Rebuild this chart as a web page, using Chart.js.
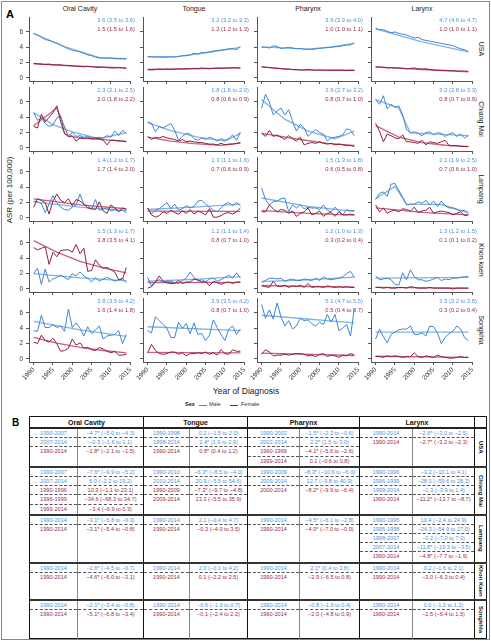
<!DOCTYPE html>
<html>
<head>
<meta charset="utf-8">
<script src="https://cdn.jsdelivr.net/npm/chart.js@4.4.1/dist/chart.umd.min.js"></script>
<style>
  body { margin: 0; background: #fff; font-family: "Liberation Sans", Arial, sans-serif; }
  #fig { position: relative; width: 491px; height: 641px; overflow: hidden; }
  .frame { position: absolute; left: 1px; top: 1px; width: 489px; height: 639px; box-sizing: border-box; border: 1px solid #888; }
  .abs { position: absolute; white-space: nowrap; }
  canvas { position: absolute; }
  .ann { font-size: 5.8px; line-height: 7px; text-align: right; }
  .m { color: #4f93d8; }
  .f { color: #9c2a4a; }
  .strip { font-size: 7px; writing-mode: vertical-rl; transform: translate(-50%, -50%); color: #222; }
  .coltitle { font-size: 7px; transform: translateX(-50%); color: #222; }
  #tbl { position: absolute; left: 29px; top: 416px; width: 457px; border-collapse: collapse; table-layout: fixed; font-size: 5.6px; border: 1px solid #111; }
  #tbl th { font-size: 7px; font-weight: bold; height: 10px; padding: 0; border-bottom: 2px solid #222; border-left: 1px solid #111; color: #111; }
  #tbl td { padding: 0; text-align: center; vertical-align: top; }
  #tbl td.p { border-left: 1px solid #111; }
  #tbl td.v { border-left: 1px solid #888; }
  #tbl td.s { border-left: 1px solid #111; writing-mode: vertical-rl; vertical-align: middle; font-weight: bold; font-size: 6px; color: #111; }
  #tbl tr.blk td { border-top: 2px solid #333; }
  .ln { height: 9.2px; line-height: 9.2px; box-sizing: border-box; white-space: nowrap; }
  .ln.dash { border-bottom: 1px dashed #555; }
</style>
</head>
<body>
<div id="fig">
  <div class="frame"></div>
  <div class="abs" style="left:6px;top:8px;font-size:11px;font-weight:bold;">A</div>
  <div class="abs" style="left:12px;top:417px;font-size:10px;font-weight:bold;">B</div>
  <div class="abs" style="left:9px;top:190px;font-size:8px;writing-mode:vertical-rl;transform:translate(-50%,-50%) rotate(180deg);color:#222;">ASR (per 100,000)</div>
  <div class="abs" style="left:246px;top:386px;font-size:8.5px;transform:translateX(-50%);color:#222;">Year of Diagnosis</div>
  <div class="abs" style="left:185px;top:401px;font-size:5.5px;font-weight:bold;color:#222;">Sex</div>
  <div class="abs" style="left:199px;top:404.5px;width:8px;height:1px;background:#3f85cf;"></div>
  <div class="abs" style="left:209px;top:401px;font-size:5.5px;color:#333;">Male</div>
  <div class="abs" style="left:230px;top:404.5px;width:8px;height:1px;background:#8e1d3d;"></div>
  <div class="abs" style="left:241px;top:401px;font-size:5.5px;color:#333;">Female</div>
</div>
<script>
// years and ticks
const years = [1990, 1991, 1992, 1993, 1994, 1995, 1996, 1997, 1998, 1999, 2000, 2001, 2002,
               2003, 2004, 2005, 2006, 2007, 2008, 2009, 2010, 2011, 2012, 2013, 2014];
const yearTicks = [1990, 1995, 2000, 2005, 2010, 2015];
const asrTicks = [0, 2, 4, 6];
const sites = ['Oral Cavity', 'Tongue', 'Pharynx', 'Larynx'];
const regions = ['USA', 'Chiang Mai', 'Lampang', 'Khon kaen', 'Songkhla'];
const tableRegions = ['USA', 'Chiang Mai', 'Lampang', 'Khon Kaen', 'Songkhla'];

// observed ASR, one list per site (oral cavity, tongue, pharynx, larynx)
const usaMale = [
    [5.8, 5.6, 5.3, 5.0, 4.9, 4.7, 4.5, 4.3, 4.0, 3.8, 3.6, 3.5, 3.4, 3.2, 3.0, 2.9, 2.7, 2.6, 2.6, 2.6, 2.6, 2.5, 2.5, 2.5, 2.5],
    [2.8, 2.75, 2.7, 2.75, 2.7, 2.7, 2.75, 2.7, 2.8, 2.9, 2.9, 3.0, 3.2, 3.1, 3.3, 3.3, 3.4, 3.5, 3.6, 3.6, 3.7, 3.8, 3.8, 3.7, 4.1],
    [4.0, 4.0, 3.9, 4.2, 4.1, 3.85, 3.9, 4.0, 3.9, 3.8, 3.85, 3.75, 3.75, 3.7, 3.8, 3.85, 3.9, 3.95, 4.0, 4.05, 4.1, 4.2, 4.3, 4.3, 4.6],
    [6.5, 6.3, 6.3, 6.1, 5.9, 6.0, 5.8, 5.7, 5.6, 5.4, 5.2, 5.3, 5.0, 4.9, 4.8, 4.7, 4.6, 4.5, 4.4, 4.3, 4.2, 4.0, 3.8, 3.7, 3.4]
];
const usaFemale = [
    [1.9, 1.85, 1.8, 1.75, 1.8, 1.7, 1.7, 1.7, 1.6, 1.6, 1.55, 1.5, 1.5, 1.45, 1.5, 1.45, 1.4, 1.35, 1.4, 1.35, 1.3, 1.3, 1.35, 1.3, 1.25],
    [1.1, 1.05, 1.1, 1.15, 1.1, 1.15, 1.1, 1.15, 1.2, 1.15, 1.2, 1.2, 1.25, 1.2, 1.3, 1.25, 1.2, 1.25, 1.3, 1.25, 1.3, 1.3, 1.35, 1.3, 1.3],
    [1.45, 1.4, 1.35, 1.3, 1.25, 1.2, 1.15, 1.15, 1.1, 1.1, 1.05, 1.05, 1.1, 1.05, 1.0, 1.05, 1.0, 1.0, 1.0, 1.0, 1.0, 1.0, 0.95, 1.0, 0.95],
    [1.45, 1.4, 1.4, 1.3, 1.35, 1.3, 1.3, 1.25, 1.2, 1.25, 1.3, 1.2, 1.15, 1.2, 1.1, 1.05, 1.0, 1.0, 1.0, 0.95, 0.95, 0.9, 0.9, 0.9, 0.85]
];
const chiangMaiMale = [
    [4.6, 3.6, 3.9, 3.2, 2.8, 3.0, 3.9, 4.2, 1.8, 1.6, 2.0, 1.5, 1.6, 1.4, 1.5, 1.3, 1.3, 1.4, 1.3, 1.6, 1.4, 2.2, 1.6, 2.3, 1.9],
    [3.4, 3.2, 2.1, 2.8, 2.6, 2.9, 3.2, 2.3, 1.0, 1.5, 1.9, 1.8, 1.2, 1.0, 1.3, 1.1, 1.4, 1.2, 0.9, 1.2, 1.0, 1.2, 1.7, 1.0, 2.1],
    [5.2, 7.0, 6.0, 4.3, 4.8, 5.2, 4.3, 5.0, 3.5, 2.2, 3.1, 2.6, 1.5, 2.0, 2.4, 2.0, 1.8, 0.9, 1.3, 1.4, 1.5, 1.7, 2.5, 2.3, 1.6],
    [6.3, 5.7, 6.8, 5.1, 5.7, 5.3, 5.5, 4.3, 2.4, 2.0, 2.1, 1.9, 1.6, 2.0, 2.1, 1.7, 2.0, 1.9, 1.5, 1.8, 2.0, 1.5, 1.8, 1.3, 1.6]
];
const chiangMaiFemale = [
    [2.8, 2.6, 4.4, 3.4, 4.0, 4.6, 5.5, 3.4, 1.9, 1.5, 1.6, 0.9, 1.3, 1.2, 1.3, 1.2, 1.3, 1.2, 1.0, 0.4, 1.0, 1.0, 0.9, 0.9, 0.8],
    [1.5, 1.1, 1.4, 1.3, 1.5, 1.3, 1.2, 1.1, 0.9, 1.1, 0.8, 0.9, 0.8, 0.7, 0.7, 0.6, 0.5, 0.5, 0.4, 0.6, 0.4, 0.5, 0.5, 0.6, 0.7],
    [1.9, 1.5, 2.3, 1.5, 1.7, 1.4, 1.1, 1.6, 1.2, 0.9, 1.4, 0.4, 0.6, 0.7, 0.6, 0.8, 0.6, 0.5, 0.6, 0.4, 0.5, 0.4, 0.3, 0.3, 0.2],
    [3.2, 2.2, 0.8, 1.8, 1.6, 1.3, 1.2, 1.7, 0.8, 0.8, 0.7, 0.6, 1.0, 0.4, 0.8, 0.7, 0.6, 0.8, 1.0, 0.3, 0.3, 0.3, 0.2, 0.2, 0.2]
];
const lampangMale = [
    [2.2, 2.1, 1.9, 0.7, 1.8, 2.9, 2.0, 1.4, 1.1, 1.0, 1.4, 1.7, 3.1, 1.8, 1.6, 1.1, 2.4, 1.0, 1.2, 1.3, 0.9, 1.1, 0.9, 1.0, 0.7],
    [1.3, 0.5, 1.0, 1.2, 1.6, 2.0, 1.2, 1.8, 1.0, 1.2, 1.6, 1.3, 1.5, 2.2, 2.3, 1.8, 1.4, 1.0, 0.8, 1.3, 1.8, 2.0, 1.6, 2.0, 1.6],
    [3.9, 2.4, 1.7, 2.1, 2.2, 2.5, 2.6, 0.8, 1.7, 1.3, 1.7, 1.2, 1.4, 1.3, 1.3, 1.1, 1.7, 1.0, 0.8, 1.4, 0.9, 0.4, 1.1, 0.9, 1.0],
    [2.4, 3.2, 3.4, 2.8, 4.4, 4.5, 3.6, 2.7, 1.7, 1.8, 1.8, 2.1, 1.9, 2.3, 1.7, 2.2, 1.5, 2.2, 1.6, 1.3, 1.3, 1.1, 0.9, 1.0, 0.6]
];
const lampangFemale = [
    [1.4, 2.5, 2.3, 2.0, 0.5, 2.2, 3.1, 2.3, 2.0, 2.5, 1.6, 2.4, 2.2, 1.8, 1.3, 1.2, 1.1, 2.1, 0.9, 0.6, 1.7, 1.3, 0.8, 1.3, 1.1],
    [1.3, 0.4, 0.1, 0.3, 0.8, 0.6, 1.0, 0.7, 0.5, 0.9, 0.6, 1.1, 0.5, 0.9, 0.7, 0.4, 1.2, 0.1, 0.1, 0.3, 0.6, 0.7, 0.5, 0.8, 1.3],
    [0.8, 0.8, 1.7, 1.2, 0.8, 1.1, 1.0, 0.6, 0.9, 0.2, 0.6, 0.8, 1.3, 0.4, 0.6, 0.9, 0.2, 0.6, 0.7, 0.2, 0.8, 0.4, 0.4, 0.5, 0.4],
    [1.7, 0.8, 1.3, 0.6, 0.9, 1.0, 0.8, 1.2, 1.1, 0.9, 1.4, 0.7, 0.9, 1.0, 1.4, 0.6, 0.8, 0.9, 0.8, 0.7, 0.4, 0.6, 0.8, 0.3, 0.4]
];
const khonKaenMale = [
    [2.0, 2.7, 0.6, 2.6, 0.9, 1.3, 1.5, 1.8, 1.5, 1.2, 2.0, 1.7, 2.2, 1.7, 1.4, 0.9, 1.5, 1.0, 1.3, 1.5, 1.3, 1.0, 1.2, 1.4, 0.8],
    [1.5, 0.4, 1.0, 1.2, 0.8, 1.0, 1.0, 0.8, 0.7, 1.1, 1.4, 2.2, 1.5, 1.0, 1.2, 0.9, 1.3, 1.4, 1.0, 1.2, 1.5, 1.8, 1.4, 2.1, 1.4],
    [0.9, 1.1, 1.4, 1.4, 1.3, 1.4, 1.0, 1.2, 1.3, 1.1, 1.1, 1.3, 1.2, 1.1, 1.4, 1.1, 1.6, 1.3, 1.2, 1.3, 1.4, 1.6, 2.0, 2.3, 1.5],
    [1.7, 1.2, 1.3, 1.4, 1.2, 0.6, 0.5, 2.1, 1.2, 2.5, 1.6, 1.2, 1.2, 1.0, 1.1, 1.3, 1.5, 1.1, 1.3, 1.2, 1.4, 1.4, 1.5, 1.6, 1.6]
];
const khonKaenFemale = [
    [5.4, 5.1, 5.3, 5.5, 3.2, 4.8, 4.2, 5.0, 5.1, 5.1, 4.8, 5.8, 4.6, 5.3, 2.3, 2.4, 3.8, 3.1, 2.7, 2.8, 2.5, 2.2, 1.2, 1.3, 2.8],
    [0.1, 0.3, 0.9, 1.7, 1.0, 0.8, 0.7, 0.7, 1.1, 0.7, 0.9, 0.9, 1.3, 1.2, 0.9, 1.0, 0.4, 1.0, 0.8, 0.6, 0.8, 0.9, 0.7, 0.9, 0.9],
    [0.4, 0.3, 0.2, 1.0, 0.4, 0.3, 0.5, 0.2, 0.4, 0.3, 0.5, 0.2, 0.7, 0.2, 0.3, 0.3, 0.2, 0.4, 0.3, 0.2, 0.3, 0.2, 0.3, 0.2, 0.2],
    [0.2, 0.2, 0.1, 0.2, 0.1, 0.1, 0.2, 0.2, 0.1, 0.3, 0.2, 0.1, 0.1, 0.1, 0.2, 0.1, 0.1, 0.1, 0.1, 0.1, 0.0, 0.1, 0.1, 0.1, 0.1]
];
const songkhlaMale = [
    [3.7, 3.6, 5.7, 4.1, 4.1, 4.5, 4.1, 4.3, 3.6, 6.5, 4.1, 4.7, 4.0, 3.0, 4.2, 3.3, 3.8, 4.3, 2.6, 3.0, 3.1, 3.2, 3.7, 2.0, 3.2],
    [3.7, 3.4, 5.5, 5.0, 4.5, 4.0, 2.8, 2.8, 4.8, 4.0, 4.6, 3.3, 4.7, 3.2, 3.3, 2.4, 3.1, 5.1, 4.1, 3.2, 2.4, 3.9, 4.3, 3.2, 3.9],
    [7.1, 5.3, 6.4, 5.2, 7.3, 5.5, 4.3, 5.0, 3.9, 4.3, 5.3, 5.0, 5.1, 4.6, 4.3, 4.8, 4.5, 5.8, 4.8, 5.8, 3.7, 4.0, 4.5, 3.0, 6.6],
    [2.6, 3.9, 2.9, 2.1, 3.2, 3.5, 3.8, 3.9, 3.9, 4.3, 3.2, 3.2, 3.4, 3.0, 4.3, 4.2, 3.4, 2.0, 2.8, 3.3, 3.6, 4.3, 3.9, 2.8, 2.4]
];
const songkhlaFemale = [
    [2.2, 2.0, 3.1, 2.4, 2.2, 2.7, 2.0, 1.0, 1.1, 1.4, 2.6, 1.8, 2.1, 1.4, 1.5, 1.2, 1.1, 1.5, 1.3, 1.0, 0.8, 1.0, 0.5, 0.5, 0.6],
    [0.8, 1.9, 1.1, 0.7, 0.6, 0.7, 0.9, 0.9, 0.6, 0.8, 0.4, 0.7, 0.7, 0.8, 0.7, 0.9, 0.6, 0.8, 0.5, 1.2, 0.7, 0.6, 1.2, 1.0, 1.0],
    [0.6, 1.2, 0.9, 0.4, 0.5, 0.5, 0.6, 0.5, 0.6, 0.7, 0.7, 0.6, 0.4, 0.5, 0.3, 0.6, 0.7, 0.3, 0.5, 0.4, 0.2, 0.5, 0.4, 0.7, 0.5],
    [0.3, 0.3, 0.2, 0.4, 0.3, 0.4, 0.3, 0.2, 0.3, 0.3, 0.8, 0.3, 0.2, 0.4, 0.3, 0.2, 0.5, 0.3, 0.2, 0.1, 0.1, 0.2, 0.3, 0.2, 0.2]
];

// joinpoint trend lines, [year, ASR] points
const usaMaleTrend = [
    [[1990, 5.8], [1998, 4.1], [2007, 2.65], [2014, 2.5]],
    [[1990, 2.75], [1998, 2.8], [2006, 3.35], [2014, 4.0]],
    [[1990, 4.05], [2002, 3.75], [2008, 4.05], [2014, 4.5]],
    [[1990, 6.4], [2002, 4.7], [2014, 3.4]]
];
const usaFemaleTrend = [
    [[1990, 1.85], [2002, 1.55], [2014, 1.3]],
    [[1990, 1.1], [2014, 1.3]],
    [[1990, 1.45], [1999, 1.05], [2014, 1.0]],
    [[1990, 1.45], [2002, 1.1], [2014, 0.8]]
];
const chiangMaiMaleTrend = [
    [[1990, 4.6], [1995, 3.05], [2000, 2.1], [2007, 1.2], [2014, 2.0]],
    [[1990, 3.3], [1996, 2.25], [2003, 1.4], [2010, 0.9], [2014, 1.9]],
    [[1990, 6.3], [1996, 3.75], [2002, 2.2], [2009, 1.2], [2014, 2.2]],
    [[1990, 6.3], [1996, 5.2], [1999, 1.95], [2014, 1.6]]
];
const chiangMaiFemaleTrend = [
    [[1990, 2.9], [1996, 5.2], [1999, 1.5], [2005, 1.2], [2014, 0.85]],
    [[1990, 1.4], [1996, 0.9], [2002, 0.57], [2009, 0.33], [2014, 0.62]],
    [[1990, 1.9], [2000, 1.1], [2007, 0.6], [2014, 0.33]],
    [[1990, 2.9], [1996, 1.4], [2002, 0.7], [2008, 0.35], [2014, 0.17]]
];
const lampangMaleTrend = [
    [[1990, 2.1], [2002, 1.4], [2014, 0.95]],
    [[1990, 1.1], [2002, 1.4], [2014, 1.8]],
    [[1990, 2.6], [2002, 1.5], [2014, 0.85]],
    [[1990, 2.5], [1995, 4.1], [1998, 1.8], [2007, 1.75], [2014, 0.7]]
];
const lampangFemaleTrend = [
    [[1990, 2.5], [2002, 1.7], [2014, 1.2]],
    [[1990, 0.9], [2014, 0.85]],
    [[1990, 0.95], [2002, 0.6], [2014, 0.36]],
    [[1990, 1.3], [2002, 0.72], [2014, 0.4]]
];
const khonKaenMaleTrend = [
    [[1990, 2.0], [2002, 1.45], [2014, 1.05]],
    [[1990, 1.0], [2002, 1.25], [2014, 1.6]],
    [[1990, 0.95], [2002, 1.2], [2014, 1.55]],
    [[1990, 1.4], [2014, 1.5]]
];
const khonKaenFemaleTrend = [
    [[1990, 6.3], [1996, 4.8], [2002, 3.6], [2008, 2.75], [2014, 2.1]],
    [[1990, 0.82], [2014, 0.85]],
    [[1990, 0.45], [2002, 0.32], [2014, 0.23]],
    [[1990, 0.2], [2014, 0.1]]
];
const songkhlaMaleTrend = [
    [[1990, 4.9], [2002, 3.8], [2014, 2.95]],
    [[1990, 4.2], [2014, 3.7]],
    [[1990, 5.7], [2014, 4.7]],
    [[1990, 3.5], [2014, 3.5]]
];
const songkhlaFemaleTrend = [
    [[1990, 2.8], [1996, 2.05], [2002, 1.5], [2008, 1.1], [2014, 0.8]],
    [[1990, 0.85], [2014, 0.8]],
    [[1990, 0.75], [2014, 0.45]],
    [[1990, 0.35], [2014, 0.2]]
];

// ASR (95% CI) labels in each panel, [male, female]
const usaAsr = [['3.6 (3.5 to 3.6)', '1.5 (1.5 to 1.6)'], ['3.2 (3.2 to 3.3)', '1.2 (1.2 to 1.3)'],
                ['3.9 (3.9 to 4.0)', '1.0 (1.0 to 1.1)'], ['4.7 (4.6 to 4.7)', '1.0 (1.0 to 1.1)']];
const chiangMaiAsr = [['2.3 (2.1 to 2.5)', '2.0 (1.8 to 2.2)'], ['1.8 (1.6 to 2.0)', '0.8 (0.6 to 0.9)'],
                      ['2.9 (2.7 to 3.2)', '0.8 (0.7 to 1.0)'], ['3.0 (2.8 to 3.3)', '0.8 (0.7 to 0.9)']];
const lampangAsr = [['1.4 (1.2 to 1.7)', '1.7 (1.4 to 2.0)'], ['1.3 (1.1 to 1.6)', '0.7 (0.6 to 0.9)'],
                    ['1.5 (1.3 to 1.8)', '0.6 (0.5 to 0.8)'], ['2.1 (1.9 to 2.5)', '0.7 (0.6 to 1.0)']];
const khonKaenAsr = [['1.5 (1.3 to 1.7)', '3.8 (3.5 to 4.1)'], ['1.2 (1.1 to 1.4)', '0.8 (0.7 to 1.0)'],
                     ['1.2 (1.0 to 1.3)', '0.3 (0.2 to 0.4)'], ['1.3 (1.2 to 1.5)', '0.1 (0.1 to 0.2)']];
const songkhlaAsr = [['3.8 (3.5 to 4.2)', '1.6 (1.4 to 1.8)'], ['3.9 (3.5 to 4.2)', '0.8 (0.7 to 1.0)'],
                     ['5.1 (4.7 to 5.5)', '0.5 (0.4 to 0.7)'], ['3.5 (3.2 to 3.8)', '0.3 (0.2 to 0.4)']];

// panel B: [period, APC (95% CI), sex]
const usaApc = [
    [['1990-2007', '−4.7* (−5.0 to −4.3)', 'm'], ['2007-2014', '−0.3 (−1.6 to 1.1)', 'm'], ['1990-2014', '−1.8* (−2.1 to −1.5)', 'f']],
    [['1990-1998', '0.2 (−1.5 to 2.0)', 'm'], ['1998-2014', '2.4* (1.9 to 2.9)', 'm'], ['1990-2014', '0.8* (0.4 to 1.2)', 'f']],
    [['1990-2002', '−1.5* (−2.3 to −0.6)', 'm'], ['2002-2014', '2.2* (1.5 to 3.0)', 'm'], ['1990-1999', '−4.1* (−5.6 to −2.6)', 'f'], ['1999-2014', '0.1 (−0.6 to 0.8)', 'f']],
    [['1990-2014', '−2.6* (−3.0 to −2.5)', 'm'], ['1990-2014', '−2.7* (−3.2 to −2.3)', 'f']]
];
const chiangMaiApc = [
    [['1990-2007', '−7.6* (−9.9 to −5.2)', 'm'], ['2007-2014', '8.0 (−2.2 to 19.2)', 'm'], ['1990-1996', '10.3 (−1.1 to 23.1)', 'f'], ['1996-1999', '−34.6 (−68.3 to 34.7)', 'f'], ['1999-2014', '−3.4 (−6.9 to 0.3)', 'f']],
    [['1990-2010', '−6.3* (−8.5 to −4.0)', 'm'], ['2010-2014', '20.9 (−5.5 to 54.6)', 'm'], ['1990-2009', '−7.3* (−9.7 to −4.8)', 'f'], ['2009-2014', '13.3 (−5.5 to 35.9)', 'f']],
    [['1990-2009', '−8.3* (−10.6 to −6.0)', 'm'], ['2009-2014', '12.7 (−9.8 to 40.9)', 'm'], ['2000-2014', '−8.2* (−9.9 to −6.4)', 'f']],
    [['1990-1996', '−3.2 (−10.1 to 4.1)', 'm'], ['1996-1999', '−28.0 (−59.6 to 28.3)', 'm'], ['1999-2014', '−1.3 (−3.9 to 1.4)', 'm'], ['1990-2014', '−11.2* (−13.7 to −8.7)', 'f']]
];
const lampangApc = [
    [['1990-2014', '−3.1* (−5.8 to −0.3)', 'm'], ['1990-2014', '−3.1* (−5.4 to −0.8)', 'f']],
    [['1990-2014', '2.1 (−0.4 to 4.7)', 'm'], ['1990-2014', '−0.3 (−4.0 to 3.5)', 'f']],
    [['1990-2014', '−4.5* (−6.1 to −2.8)', 'm'], ['1990-2014', '−4.0* (−7.0 to −0.9)', 'f']],
    [['1990-1995', '10.4 (−2.4 to 24.9)', 'm'], ['1995-1998', '−24.3 (−54.9 to 27.0)', 'm'], ['1998-2007', '−0.2 (−7.0 to 7.0)', 'm'], ['2007-2014', '−11.8* (−19.3 to −3.5)', 'm'], ['1990-2014', '−4.8* (−7.7 to −1.9)', 'f']]
];
const khonKaenApc = [
    [['1990-2014', '−2.6* (−4.5 to −0.7)', 'm'], ['1990-2014', '−4.6* (−6.0 to −3.1)', 'f']],
    [['1990-2014', '2.0 (−0.1 to 4.2)', 'm'], ['1990-2014', '0.1 (−2.2 to 2.5)', 'f']],
    [['1990-2014', '2.1* (0.4 to 3.8)', 'm'], ['1990-2014', '−2.9 (−6.5 to 0.8)', 'f']],
    [['1990-2014', '0.2 (−1.6 to 2.1)', 'm'], ['1990-2014', '−3.0 (−6.3 to 0.4)', 'f']]
];
const songkhlaApc = [
    [['1990-2014', '−2.1* (−3.4 to −0.8)', 'm'], ['1990-2014', '−5.1* (−6.8 to −3.4)', 'f']],
    [['1990-2014', '−0.6 (−1.9 to 0.7)', 'm'], ['1990-2014', '−0.1 (−2.4 to 2.2)', 'f']],
    [['1990-2014', '−0.8 (−1.9 to 0.4)', 'm'], ['1990-2014', '−2.0 (−4.8 to 0.9)', 'f']],
    [['1990-2014', '0.0 (−1.3 to 1.3)', 'm'], ['1990-2014', '−2.5 (−6.4 to 1.5)', 'f']]
];

const maleSets = [usaMale, chiangMaiMale, lampangMale, khonKaenMale, songkhlaMale];
const femaleSets = [usaFemale, chiangMaiFemale, lampangFemale, khonKaenFemale, songkhlaFemale];
const maleTrends = [usaMaleTrend, chiangMaiMaleTrend, lampangMaleTrend, khonKaenMaleTrend, songkhlaMaleTrend];
const femaleTrends = [usaFemaleTrend, chiangMaiFemaleTrend, lampangFemaleTrend, khonKaenFemaleTrend, songkhlaFemaleTrend];
const asrLabels = [usaAsr, chiangMaiAsr, lampangAsr, khonKaenAsr, songkhlaAsr];
const apcTables = [usaApc, chiangMaiApc, lampangApc, khonKaenApc, songkhlaApc];

// layout of the panel grid
const colLeft = [29, 143, 257, 371];
const rowTop = [17, 87, 157, 228, 298];
const plotW = 102, plotH = 64;

const maleColor = '#3f85cf', femaleColor = '#8e1d3d';
const maleTrendColor = '#80b3e4', femaleTrendColor = '#c3637c';

Chart.defaults.font.family = '"Liberation Sans", Arial, sans-serif';
Chart.defaults.font.size = 6.5;
Chart.defaults.color = '#333';

const fig = document.getElementById('fig');

function addText(cls, text, style) {
    const d = document.createElement('div');
    d.className = 'abs ' + cls;
    d.textContent = text;
    Object.assign(d.style, style);
    fig.appendChild(d);
    return d;
}

sites.forEach((s, ci) => {
    addText('coltitle', s, { left: (colLeft[ci] + plotW / 2) + 'px', top: '5px' });
});
regions.forEach((r, ri) => {
    addText('strip', r, { left: '481px', top: (rowTop[ri] + plotH / 2) + 'px' });
});

function lineSet(points, color, width) {
    return {
        data: points,
        borderColor: color,
        borderWidth: width,
        pointRadius: 0,
        tension: 0,
        fill: false
    };
}

function makePanel(ri, ci) {
    const isLeft = ci === 0;
    const isBottom = ri === regions.length - 1;
    const padL = isLeft ? 28 : 12;
    const padB = isBottom ? 26 : 5;

    const cv = document.createElement('canvas');
    cv.width = padL + plotW;
    cv.height = plotH + padB;
    cv.style.left = (colLeft[ci] - padL) + 'px';
    cv.style.top = rowTop[ri] + 'px';
    fig.appendChild(cv);

    const male = maleSets[ri][ci].map((v, i) => ({ x: years[i], y: v }));
    const female = femaleSets[ri][ci].map((v, i) => ({ x: years[i], y: v }));
    const maleFit = maleTrends[ri][ci].map(p => ({ x: p[0], y: p[1] }));
    const femaleFit = femaleTrends[ri][ci].map(p => ({ x: p[0], y: p[1] }));

    new Chart(cv, {
        type: 'line',
        data: {
            datasets: [
                lineSet(female, femaleColor, 1),
                lineSet(male, maleColor, 1),
                lineSet(femaleFit, femaleTrendColor, 1.3),
                lineSet(maleFit, maleTrendColor, 1.3)
            ]
        },
        options: {
            responsive: false,
            animation: false,
            events: [],
            layout: { padding: 0 },
            plugins: { legend: { display: false }, tooltip: { enabled: false } },
            scales: {
                x: {
                    type: 'linear',
                    min: 1988.8,
                    max: 2015.2,
                    afterBuildTicks: sc => { sc.ticks = yearTicks.map(v => ({ value: v })); },
                    afterFit: sc => {
                        sc.height = padB;
                        sc.paddingLeft = 0; sc.paddingRight = 0;
                    },
                    grid: { drawOnChartArea: false, tickLength: 3, color: '#555' },
                    border: { color: '#555' },
                    ticks: {
                        display: isBottom,
                        autoSkip: false,
                        minRotation: 45,
                        maxRotation: 45,
                        padding: 1,
                        color: '#333',
                        callback: v => String(v)
                    }
                },
                y: {
                    min: -0.4,
                    max: 7.95,
                    afterBuildTicks: sc => { sc.ticks = asrTicks.map(v => ({ value: v })); },
                    afterFit: sc => {
                        sc.width = padL;
                        sc.paddingTop = 0; sc.paddingBottom = 0;
                    },
                    grid: { drawOnChartArea: false, tickLength: 3, color: '#555' },
                    border: { color: '#555' },
                    ticks: { display: isLeft, padding: 3, color: '#333' }
                }
            }
        }
    });

    // ASR (95% CI) text, right aligned at the panel's top right
    const rightEdge = 491 - (colLeft[ci] + plotW + 4);
    const lab = asrLabels[ri][ci];
    addText('ann m', lab[0], { right: rightEdge + 'px', top: rowTop[ri] + 'px' });
    addText('ann f', lab[1], { right: rightEdge + 'px', top: (rowTop[ri] + 8.5) + 'px' });
}

regions.forEach((r, ri) => sites.forEach((s, ci) => makePanel(ri, ci)));

// panel B table
const colWidths = [48, 66, 46, 58, 52, 60, 53, 62, 12];
const blockHeights = [37, 46, 47, 37, 39];

const tbl = document.createElement('table');
tbl.id = 'tbl';
const cg = document.createElement('colgroup');
colWidths.forEach(w => {
    const c = document.createElement('col');
    c.style.width = w + 'px';
    cg.appendChild(c);
});
tbl.appendChild(cg);

const head = document.createElement('tr');
sites.forEach(s => {
    const th = document.createElement('th');
    th.colSpan = 2;
    th.textContent = s;
    head.appendChild(th);
});
head.appendChild(document.createElement('th'));
tbl.appendChild(head);

function cellLines(entries, idx) {
    const td = document.createElement('td');
    entries.forEach((e, k) => {
        const d = document.createElement('div');
        d.className = 'ln ' + e[2] + (k < entries.length - 1 ? ' dash' : '');
        d.textContent = e[idx];
        td.appendChild(d);
    });
    return td;
}

tableRegions.forEach((r, ri) => {
    const tr = document.createElement('tr');
    tr.className = 'blk';
    tr.style.height = blockHeights[ri] + 'px';
    apcTables[ri].forEach(entries => {
        const p = cellLines(entries, 0);
        p.className = 'p';
        const v = cellLines(entries, 1);
        v.className = 'v';
        tr.appendChild(p);
        tr.appendChild(v);
    });
    const st = document.createElement('td');
    st.className = 's';
    st.textContent = r;
    tr.appendChild(st);
    tbl.appendChild(tr);
});
fig.appendChild(tbl);
</script>
</body>
</html>
